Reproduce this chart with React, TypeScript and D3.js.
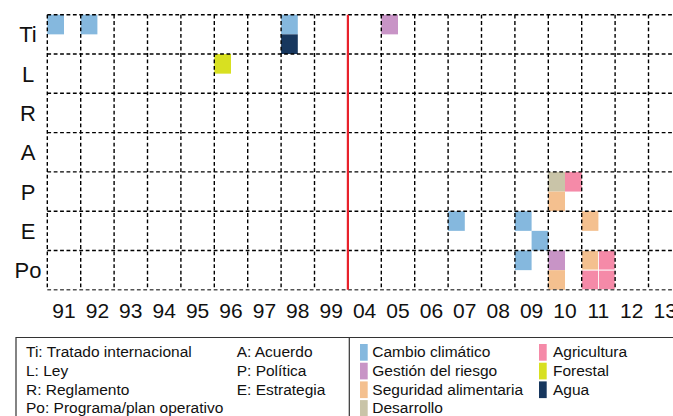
import * as d3 from 'd3';

// instrument types (rows) and years (columns)
const rowKeys = ['Ti', 'L', 'R', 'A', 'P', 'E', 'Po'];
const years = ['91', '92', '93', '94', '95', '96', '97', '98', '99', '04', '05', '06', '07', '08', '09', '10', '11', '12', '13'];

const categories = ['Cambio climático', 'Gestión del riesgo', 'Seguridad alimentaria', 'Desarrollo', 'Agricultura', 'Forestal', 'Agua'];
const catColors = ['#85b8de', '#c894c6', '#f4c08f', '#c9c4a8', '#f58aa8', '#d8e021', '#17375e'];

// each instrument: row, year, category, side (left/right half), tier (top/bottom half)
const instruments = [
  { row: 'Ti', year: '91', cat: 'Cambio climático', side: 'l', tier: 't' },
  { row: 'Ti', year: '92', cat: 'Cambio climático', side: 'l', tier: 't' },
  { row: 'Ti', year: '98', cat: 'Cambio climático', side: 'l', tier: 't' },
  { row: 'Ti', year: '98', cat: 'Agua', side: 'l', tier: 'b' },
  { row: 'Ti', year: '05', cat: 'Gestión del riesgo', side: 'l', tier: 't' },
  { row: 'L', year: '96', cat: 'Forestal', side: 'l', tier: 't' },
  { row: 'P', year: '10', cat: 'Desarrollo', side: 'l', tier: 't' },
  { row: 'P', year: '10', cat: 'Agricultura', side: 'r', tier: 't' },
  { row: 'P', year: '10', cat: 'Seguridad alimentaria', side: 'l', tier: 'b' },
  { row: 'E', year: '07', cat: 'Cambio climático', side: 'l', tier: 't' },
  { row: 'E', year: '09', cat: 'Cambio climático', side: 'l', tier: 't' },
  { row: 'E', year: '09', cat: 'Cambio climático', side: 'r', tier: 'b' },
  { row: 'E', year: '11', cat: 'Seguridad alimentaria', side: 'l', tier: 't' },
  { row: 'Po', year: '09', cat: 'Cambio climático', side: 'l', tier: 't' },
  { row: 'Po', year: '10', cat: 'Gestión del riesgo', side: 'l', tier: 't' },
  { row: 'Po', year: '10', cat: 'Seguridad alimentaria', side: 'l', tier: 'b' },
  { row: 'Po', year: '11', cat: 'Seguridad alimentaria', side: 'l', tier: 't' },
  { row: 'Po', year: '11', cat: 'Agricultura', side: 'r', tier: 't' },
  { row: 'Po', year: '11', cat: 'Agricultura', side: 'l', tier: 'b' },
  { row: 'Po', year: '11', cat: 'Agricultura', side: 'r', tier: 'b' },
];

const abbrevCol1 = ['Ti: Tratado internacional', 'L: Ley', 'R: Reglamento', 'Po: Programa/plan operativo'];
const abbrevCol2 = ['A: Acuerdo', 'P: Política', 'E: Estrategia'];
const legendCol1 = ['Cambio climático', 'Gestión del riesgo', 'Seguridad alimentaria', 'Desarrollo'];
const legendCol2 = ['Agricultura', 'Forestal', 'Agua'];

const breakAfter = '99';

const W = 673;
const H = 416;
const font = '"Liberation Sans", Arial, Helvetica, sans-serif';

export default function App() {
  const left = 47.3;
  const colW = 33.4;
  const top = 14.7;
  const bottom = 289.8;

  const x = d3.scaleBand<string>().domain(years).range([left, left + colW * years.length]);
  const y = d3.scaleBand<string>().domain(rowKeys).range([top, bottom]);
  const sx = d3.scaleBand<string>().domain(['l', 'r']).range([0, x.bandwidth()]);
  const sy = d3.scaleBand<string>().domain(['t', 'b']).range([0, y.bandwidth()]);
  const color = d3.scaleOrdinal<string, string>().domain(categories).range(catColors);

  const colEdges = years.map((yr) => x(yr) as number);
  const rowEdges = rowKeys.map((r) => y(r) as number);
  const redX = (x(breakAfter) as number) + x.bandwidth();

  const dash = '3.8,2.6';
  const lineH = 18.7;

  return (
    <svg width={W} height={H} style={{ position: 'absolute', left: 0, top: 0, background: '#fff' }} fontFamily={font}>
      {/* instrument squares */}
      {instruments.map((d, i) => (
        <rect
          key={i}
          x={(x(d.year) as number) + (sx(d.side) as number)}
          y={(y(d.row) as number) + (sy(d.tier) as number)}
          width={sx.bandwidth()}
          height={sy.bandwidth()}
          fill={color(d.cat)}
          stroke={d.row === 'Po' && d.year === '11' ? '#fff' : 'none'}
          strokeWidth={0.8}
        />
      ))}

      {/* grid */}
      {rowEdges.map((ry, i) => (
        <line key={'h' + i} x1={left} x2={W} y1={ry} y2={ry} stroke="#000" strokeWidth={1.4} strokeDasharray={dash} />
      ))}
      <line x1={left} x2={W} y1={bottom} y2={bottom} stroke="#555" strokeWidth={1.4} strokeDasharray={dash} />
      {colEdges.map((cx, i) =>
        Math.abs(cx - redX) < 1 ? null : (
          <line key={'v' + i} x1={cx} x2={cx} y1={top} y2={bottom} stroke="#000" strokeWidth={1.4} strokeDasharray={dash} />
        )
      )}
      <line x1={redX} x2={redX} y1={top} y2={bottom} stroke="#e8212b" strokeWidth={2.2} />

      {/* row labels */}
      {rowKeys.map((r) => (
        <text key={r} x={28} y={(y(r) as number) + y.bandwidth() / 2 + 8} textAnchor="middle" fontSize={22} fill="#111">
          {r}
        </text>
      ))}

      {/* year labels */}
      {years.map((yr) => (
        <text key={yr} x={(x(yr) as number) + x.bandwidth() / 2} y={318} textAnchor="middle" fontSize={21} fill="#111">
          {yr}
        </text>
      ))}

      {/* legend box */}
      <path d={`M16,${H} V337.5 H${W}`} fill="none" stroke="#333" strokeWidth={1.2} />
      <line x1={349.3} x2={349.3} y1={337.5} y2={H} stroke="#333" strokeWidth={1.2} />

      {abbrevCol1.map((t, i) => (
        <text key={t} x={26} y={357.3 + i * lineH} fontSize={15.5} fill="#111">{t}</text>
      ))}
      {abbrevCol2.map((t, i) => (
        <text key={t} x={236.7} y={357.3 + i * lineH} fontSize={15.5} fill="#111">{t}</text>
      ))}
      {legendCol1.map((t, i) => (
        <g key={t}>
          <rect x={360} y={344 + i * lineH} width={7.7} height={16.7} fill={color(t)} />
          <text x={372.3} y={357.3 + i * lineH} fontSize={15.5} fill="#111">{t}</text>
        </g>
      ))}
      {legendCol2.map((t, i) => (
        <g key={t}>
          <rect x={539} y={344 + i * lineH} width={7.7} height={16.7} fill={color(t)} />
          <text x={553} y={357.3 + i * lineH} fontSize={15.5} fill="#111">{t}</text>
        </g>
      ))}
    </svg>
  );
}
